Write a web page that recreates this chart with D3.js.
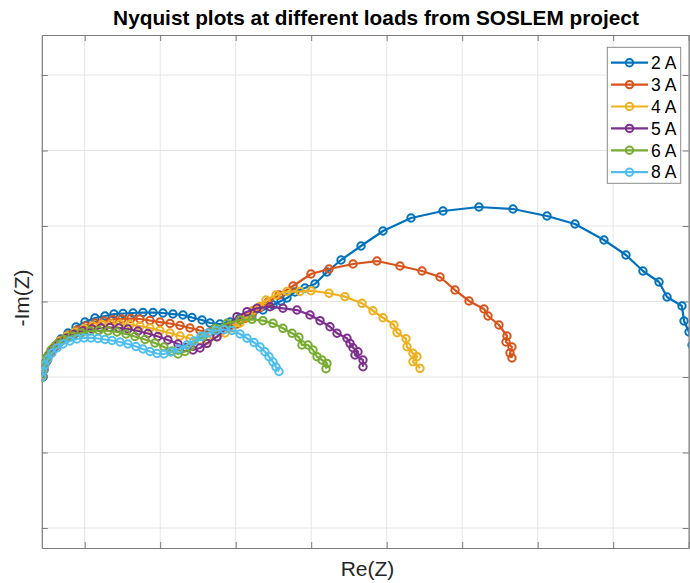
<!DOCTYPE html>
<html>
<head>
<meta charset="utf-8">
<script src="https://cdn.jsdelivr.net/npm/d3@7"></script>
<style>
  html, body { margin: 0; padding: 0; background: #fff; }
  svg { display: block; font-family: "Liberation Sans", Arial, Helvetica, sans-serif; }
</style>
</head>
<body>
<svg id="chart" width="690" height="583"></svg>
<script>
// Impedance spectra, Re(Z) vs -Im(Z), one series per load current
const loads = ["2 A", "3 A", "4 A", "5 A", "6 A", "8 A"];
const colors = ["#0072BD", "#D95319", "#EDB120", "#7E2F8E", "#77AC30", "#4DBEEE"];

const re2A = [0.448,0.461,0.487,0.540,0.607,0.686,0.779,0.885,1.004,1.136,1.269,1.388,1.507,1.640,1.772,1.905,2.037,2.169,2.302,2.421,2.554,2.660,2.792,2.925,3.057,3.216,3.361,3.494,3.600,3.679,3.785,3.918,4.050,4.209,4.395,4.660,4.951,5.322,5.746,6.222,6.673,7.123,7.494,7.878,8.169,8.394,8.607,8.713,8.911,8.938,9.004,9.044];
const im2A = [0,0.093,0.199,0.305,0.411,0.503,0.583,0.662,0.728,0.781,0.808,0.834,0.841,0.848,0.854,0.854,0.848,0.834,0.821,0.788,0.755,0.715,0.702,0.728,0.781,0.821,0.887,0.954,1.007,1.046,1.126,1.179,1.232,1.391,1.550,1.735,1.934,2.106,2.199,2.252,2.225,2.132,2.026,1.815,1.616,1.404,1.258,1.060,0.940,0.742,0.596,0.424];

const re3A = [0.448,0.461,0.501,0.554,0.620,0.699,0.792,0.898,1.017,1.136,1.255,1.375,1.494,1.613,1.732,1.865,1.997,2.130,2.262,2.394,2.527,2.660,2.792,2.911,3.017,3.123,3.216,3.322,3.428,3.573,3.759,3.997,4.236,4.554,4.871,5.176,5.468,5.706,5.905,6.090,6.289,6.342,6.487,6.593,6.580,6.659,6.633,6.659];
const im3A = [0.013,0.106,0.212,0.318,0.411,0.490,0.556,0.623,0.675,0.715,0.742,0.762,0.768,0.775,0.768,0.748,0.728,0.709,0.682,0.649,0.616,0.596,0.609,0.649,0.702,0.775,0.848,0.921,0.993,1.086,1.205,1.364,1.430,1.497,1.536,1.470,1.404,1.325,1.152,1.007,0.901,0.808,0.689,0.543,0.464,0.397,0.318,0.252];

const re4A = [0.434,0.448,0.474,0.527,0.593,0.673,0.766,0.871,0.991,1.110,1.229,1.348,1.468,1.600,1.732,1.865,1.997,2.130,2.262,2.394,2.527,2.633,2.752,2.858,2.951,3.057,3.150,3.229,3.322,3.401,3.534,3.679,3.851,3.997,4.236,4.448,4.673,4.818,4.951,5.097,5.137,5.256,5.269,5.348,5.401,5.348,5.441];
const im4A = [0.013,0.106,0.212,0.305,0.397,0.477,0.543,0.596,0.642,0.675,0.695,0.702,0.702,0.695,0.675,0.649,0.616,0.583,0.543,0.510,0.490,0.490,0.530,0.583,0.649,0.715,0.795,0.881,0.934,1.020,1.086,1.132,1.132,1.143,1.109,1.064,0.976,0.878,0.785,0.689,0.587,0.507,0.401,0.314,0.269,0.203,0.115];

const re5A = [0.434,0.448,0.474,0.514,0.580,0.660,0.752,0.858,0.977,1.097,1.216,1.335,1.454,1.573,1.706,1.838,1.971,2.103,2.236,2.342,2.434,2.527,2.620,2.752,2.898,3.017,3.150,3.282,3.454,3.626,3.812,3.984,4.117,4.249,4.342,4.474,4.514,4.553,4.620,4.580,4.686,4.686];
const im5A = [0,0.093,0.185,0.278,0.371,0.450,0.510,0.563,0.609,0.636,0.649,0.656,0.649,0.636,0.609,0.576,0.536,0.490,0.437,0.391,0.358,0.384,0.446,0.534,0.666,0.799,0.865,0.910,0.931,0.910,0.887,0.821,0.746,0.666,0.579,0.513,0.446,0.388,0.335,0.291,0.225,0.136];

const re6A = [0.421,0.434,0.461,0.501,0.554,0.633,0.726,0.832,0.951,1.070,1.189,1.309,1.428,1.547,1.666,1.799,1.931,2.050,2.156,2.236,2.328,2.395,2.567,2.726,2.885,3.057,3.216,3.361,3.494,3.626,3.746,3.838,3.878,3.958,4.024,4.077,4.143,4.209,4.196];
const im6A = [-0.013,0.079,0.172,0.265,0.358,0.437,0.497,0.543,0.583,0.609,0.616,0.609,0.596,0.570,0.536,0.497,0.450,0.397,0.344,0.305,0.338,0.401,0.534,0.645,0.711,0.755,0.764,0.746,0.711,0.645,0.579,0.526,0.424,0.424,0.358,0.269,0.225,0.181,0.110];

const re8A = [0.434,0.448,0.474,0.514,0.567,0.633,0.713,0.805,0.898,0.991,1.083,1.176,1.269,1.362,1.468,1.573,1.679,1.772,1.865,1.958,2.050,2.143,2.249,2.355,2.448,2.540,2.633,2.739,2.845,2.951,3.057,3.150,3.243,3.322,3.388,3.441,3.494,3.534,3.573];
const im8A = [0,0.079,0.159,0.238,0.318,0.384,0.437,0.477,0.503,0.517,0.517,0.510,0.497,0.483,0.464,0.437,0.404,0.371,0.338,0.311,0.305,0.331,0.371,0.424,0.477,0.536,0.583,0.616,0.629,0.616,0.570,0.513,0.457,0.397,0.335,0.269,0.199,0.132,0.073];

const reSeries = [re2A, re3A, re4A, re5A, re6A, re8A];
const imSeries = [im2A, im3A, im4A, im5A, im6A, im8A];

const xTicks = [1, 2, 3, 4, 5, 6, 7, 8, 9];
const yTicks = [-2, -1, 0, 1, 2, 3, 4];
const xLimits = [0.432, 9.0];
const yLimits = [-2.265, 4.53];

const titleText = "Nyquist plots at different loads from SOSLEM project";
const xLabelText = "Re(Z)";
const yLabelText = "-Im(Z)";

// ---- layout ----
const plot = { left: 41.8, right: 688.7, top: 35, bottom: 548 };
const svg = d3.select("#chart");

const x = d3.scaleLinear().domain(xLimits).range([plot.left, plot.right]);
const y = d3.scaleLinear().domain(yLimits).range([plot.bottom, plot.top]);

const tickLen = 6;
const axisColor = "#7a7a7a";
const gridColor = "#e5e5e5";

// grid
const grid = svg.append("g");
grid.selectAll("line.gx").data(xTicks).join("line")
  .attr("x1", d => x(d)).attr("x2", d => x(d))
  .attr("y1", plot.top).attr("y2", plot.bottom)
  .attr("stroke", gridColor).attr("stroke-width", 1);
grid.selectAll("line.gy").data(yTicks).join("line")
  .attr("x1", plot.left).attr("x2", plot.right)
  .attr("y1", d => y(d)).attr("y2", d => y(d))
  .attr("stroke", gridColor).attr("stroke-width", 1);

// axes with inward ticks and no tick labels, box on all four sides
const axisBottom = d3.axisBottom(x).tickValues(xTicks).tickFormat("").tickSizeInner(-tickLen).tickSizeOuter(0);
const axisTop = d3.axisTop(x).tickValues(xTicks).tickFormat("").tickSizeInner(-tickLen).tickSizeOuter(0);
const axisLeft = d3.axisLeft(y).tickValues(yTicks).tickFormat("").tickSizeInner(-tickLen).tickSizeOuter(0);
const axisRight = d3.axisRight(y).tickValues(yTicks).tickFormat("").tickSizeInner(-tickLen).tickSizeOuter(0);

function styleAxis(g) {
  g.selectAll("path.domain").attr("stroke", axisColor).attr("stroke-width", 1.2);
  g.selectAll(".tick line").attr("stroke", axisColor).attr("stroke-width", 1);
}
svg.append("g").attr("transform", `translate(0,${plot.bottom})`).call(axisBottom).call(styleAxis);
svg.append("g").attr("transform", `translate(0,${plot.top})`).call(axisTop).call(styleAxis);
svg.append("g").attr("transform", `translate(${plot.left},0)`).call(axisLeft).call(styleAxis);
svg.append("g").attr("transform", `translate(${plot.right},0)`).call(axisRight).call(styleAxis);

// clip region for the data
svg.append("clipPath").attr("id", "plotClip").append("rect")
  .attr("x", plot.left).attr("y", plot.top)
  .attr("width", plot.right - plot.left).attr("height", plot.bottom - plot.top);

const line = d3.line().x(d => x(d[0])).y(d => y(d[1]));
const dataLayer = svg.append("g").attr("clip-path", "url(#plotClip)");

const markerR = 3.7;
const markerW = 2;
loads.forEach((name, i) => {
  const pts = reSeries[i].map((r, k) => [r, imSeries[i][k]]);
  const g = dataLayer.append("g");
  g.append("path").datum(pts)
    .attr("d", line).attr("fill", "none")
    .attr("stroke", colors[i]).attr("stroke-width", 2.2).attr("stroke-linejoin", "round");
  g.selectAll("circle").data(pts).join("circle")
    .attr("cx", d => x(d[0])).attr("cy", d => y(d[1]))
    .attr("r", markerR).attr("fill", "none")
    .attr("stroke", colors[i]).attr("stroke-width", markerW);
});

// title and axis labels
svg.append("text").attr("x", 376).attr("y", 25)
  .attr("text-anchor", "middle").attr("font-weight", "bold").attr("font-size", 20.8)
  .attr("fill", "#000").text(titleText);
svg.append("text").attr("x", 367.5).attr("y", 576)
  .attr("text-anchor", "middle").attr("font-size", 21).attr("fill", "#262626").text(xLabelText);
svg.append("text")
  .attr("transform", `translate(29,298) rotate(-90)`)
  .attr("text-anchor", "middle").attr("font-size", 21).attr("fill", "#262626").text(yLabelText);

// legend
const legend = { x: 607.3, y: 47.3, w: 73.4, h: 136, rowH: 21.9, first: 62.7 };
const lg = svg.append("g");
lg.append("rect").attr("x", legend.x).attr("y", legend.y)
  .attr("width", legend.w).attr("height", legend.h)
  .attr("fill", "#fff").attr("stroke", "#8a8a8a").attr("stroke-width", 1);
loads.forEach((name, i) => {
  const cy = legend.first + i * legend.rowH;
  lg.append("line").attr("x1", 611).attr("x2", 648).attr("y1", cy).attr("y2", cy)
    .attr("stroke", colors[i]).attr("stroke-width", 2.2);
  lg.append("circle").attr("cx", 629.5).attr("cy", cy).attr("r", markerR)
    .attr("fill", "none").attr("stroke", colors[i]).attr("stroke-width", markerW);
  lg.append("text").attr("x", 651).attr("y", cy + 6.2)
    .attr("font-size", 17.5).attr("fill", "#000").text(name);
});
</script>
</body>
</html>
